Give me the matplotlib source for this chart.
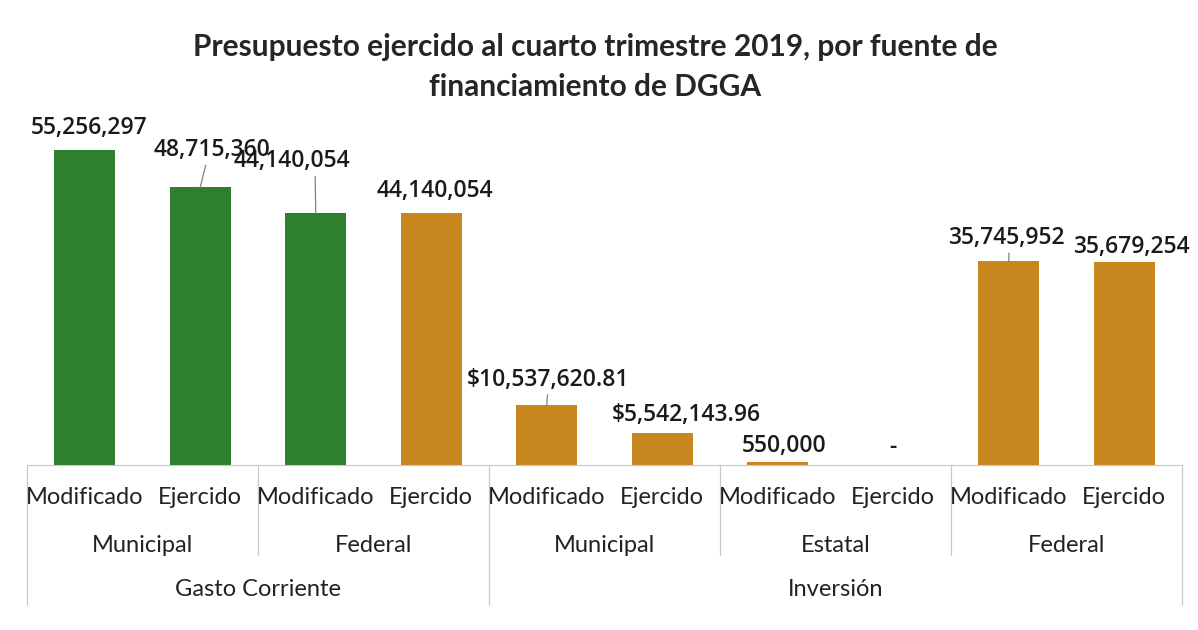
import matplotlib.pyplot as plt
import matplotlib.transforms as mtransforms

# Datos del gráfico
valores = [55256297, 48715360, 44140054, 44140054, 10537620.81,
           5542143.96, 550000, 0, 35745952, 35679254]
etiquetas = ['55,256,297', '48,715,360', '44,140,054', '44,140,054',
             '$10,537,620.81', '$5,542,143.96', '550,000', '-',
             '35,745,952', '35,679,254']
nivel1 = ['Modificado', 'Ejercido'] * 5
nivel2 = ['Municipal', 'Federal', 'Municipal', 'Estatal', 'Federal']
nivel3 = ['Gasto Corriente', 'Inversión']
fuente = ['Municipal', 'Municipal', 'Municipal', 'Federal', 'Federal',
          'Federal', 'Federal', 'Federal', 'Federal', 'Federal']

VERDE = '#2e7f2e'
NARANJA = '#c7861f'
colores = [VERDE if f == 'Municipal' else NARANJA for f in fuente]

# desplazamiento de las etiquetas (pixeles) y punto de salida de la línea guía
despl = [(4, 22), (12, 37), (-24, 52), (4, 22), (1, 25),
         (24, 18), (6, 16), (0, 18), (-2, 23), (7, 15)]
guia = [None, (0.45, 0), (0.7, 0), None, (0.5, 0),
        None, None, None, (0.52, 0), None]

fig = plt.figure(figsize=(11.98, 6.3), dpi=100)
ax = fig.add_axes([27 / 1198, 165 / 630, 1155 / 1198, 353.4 / 630])

x = list(range(len(valores)))
ax.bar(x, valores, width=0.53, color=colores)
ax.set_xlim(-0.5, 9.5)
ax.set_ylim(0, 62e6)

for s in ['top', 'right', 'left']:
    ax.spines[s].set_visible(False)
ax.spines['bottom'].set_color('#c8c8c8')
ax.set_yticks([])
ax.set_xticks([])

# etiquetas de datos
for i, (v, t) in enumerate(zip(valores, etiquetas)):
    dx, dy = despl[i]
    props = None
    if guia[i] is not None:
        props = dict(arrowstyle='-', color='#808080', lw=0.9, shrinkA=0, shrinkB=0,
                     relpos=guia[i])
    ax.annotate(t, xy=(i, v), xytext=(dx, dy), textcoords='offset pixels',
                ha='center', va='center', fontsize=16.5, fontweight='semibold',
                family='Open Sans', color='#1a1a1a', arrowprops=props,
                annotation_clip=False)

# ejes de categorías en tres niveles
tr = mtransforms.blended_transform_factory(ax.transData, fig.transFigure)
fuente_cat = dict(family='Lato', fontsize=17, color='#222222', ha='center', va='center')
for i, t in enumerate(nivel1):
    ax.text(i, (630 - 497) / 630, t, transform=tr, **fuente_cat)
for j, t in enumerate(nivel2):
    ax.text(2 * j + 0.5, (630 - 545) / 630, t, transform=tr, **fuente_cat)
ax.text(1.5, (630 - 590) / 630, nivel3[0], transform=tr, **fuente_cat)
ax.text(6.5, (630 - 590) / 630, nivel3[1], transform=tr, **fuente_cat)

base = 165 / 630
for xs in [1.5, 5.5, 7.5]:
    ax.plot([xs, xs], [base, (630 - 555) / 630], transform=tr, color='#c8c8c8',
            lw=0.9, clip_on=False)
for xs in [-0.5, 3.5, 9.5]:
    ax.plot([xs, xs], [base, (630 - 605) / 630], transform=tr, color='#c8c8c8',
            lw=0.9, clip_on=False)

fig.text(0.497, 1 - 47 / 630, 'Presupuesto ejercido al cuarto trimestre 2019, por fuente de',
         ha='center', va='center', family='Lato', fontweight='bold', fontsize=21.5, color='#262626')
fig.text(0.497, 1 - 87 / 630, 'financiamiento de DGGA',
         ha='center', va='center', family='Lato', fontweight='bold', fontsize=21.5, color='#262626')

fig.savefig('out.png', dpi=100)
